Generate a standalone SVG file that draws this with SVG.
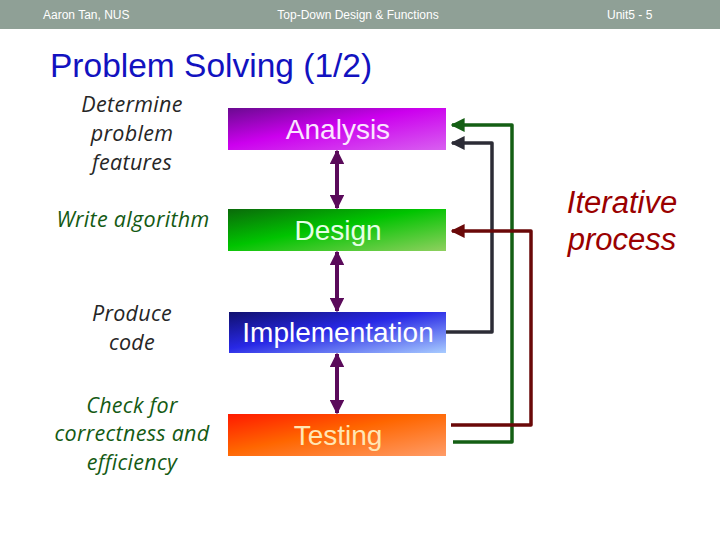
<svg xmlns="http://www.w3.org/2000/svg" width="720" height="540" viewBox="0 0 720 540">
<defs>
<style>
.hdr{font-family:"Liberation Sans",Arial,sans-serif;font-size:12px;fill:#ffffff}
.box{font-family:"Liberation Sans",Arial,sans-serif;font-size:28px;text-anchor:middle}
.lbl{font-family:"Open Sans","Noto Sans",sans-serif;font-style:italic;font-size:21.5px;letter-spacing:0.3px;text-anchor:middle}
.dk{fill:#262626}
.gr{fill:#145a14}
.vline{stroke:#5a0a5a;stroke-width:4;fill:none}
.conn{stroke-width:3.5;fill:none;stroke-linejoin:round}
</style>
<linearGradient id="gA" x1="0" y1="0" x2="1" y2="1">
<stop offset="0" stop-color="#6a0a90"/><stop offset="0.45" stop-color="#cc00ee"/><stop offset="1" stop-color="#d860f0"/>
</linearGradient>
<linearGradient id="gD" x1="0" y1="0" x2="1" y2="1">
<stop offset="0" stop-color="#0a6a0a"/><stop offset="0.45" stop-color="#00c400"/><stop offset="1" stop-color="#90d060"/>
</linearGradient>
<linearGradient id="gI" x1="0" y1="0" x2="1" y2="1">
<stop offset="0" stop-color="#10106e"/><stop offset="0.45" stop-color="#2828e6"/><stop offset="1" stop-color="#a8ccff"/>
</linearGradient>
<linearGradient id="gT" x1="0" y1="0" x2="1" y2="1">
<stop offset="0" stop-color="#ff1a00"/><stop offset="0.45" stop-color="#ff6600"/><stop offset="1" stop-color="#ff9c68"/>
</linearGradient>
<marker id="mP" viewBox="0 0 10 10" refX="9" refY="5" markerWidth="3.6" markerHeight="3.6" orient="auto-start-reverse" markerUnits="strokeWidth">
<path d="M0,0 L10,5 L0,10 z" fill="#5a0a5a"/>
</marker>
<marker id="mG" viewBox="0 0 10 10" refX="9" refY="5" markerWidth="4" markerHeight="4" orient="auto" markerUnits="strokeWidth">
<path d="M0,0 L10,5 L0,10 z" fill="#145f14"/>
</marker>
<marker id="mK" viewBox="0 0 10 10" refX="9" refY="5" markerWidth="4" markerHeight="4" orient="auto" markerUnits="strokeWidth">
<path d="M0,0 L10,5 L0,10 z" fill="#2c2c36"/>
</marker>
<marker id="mR" viewBox="0 0 10 10" refX="9" refY="5" markerWidth="4" markerHeight="4" orient="auto" markerUnits="strokeWidth">
<path d="M0,0 L10,5 L0,10 z" fill="#6a0808"/>
</marker>
</defs>
<rect x="0" y="0" width="720" height="540" fill="#ffffff"/>
<g id="header">
<rect x="0" y="0" width="720" height="29" fill="#8fa096"/>
<text class="hdr" x="43" y="19">Aaron Tan, NUS</text>
<text class="hdr" x="358" y="19" text-anchor="middle">Top-Down Design &amp; Functions</text>
<text class="hdr" x="607" y="19">Unit5 - 5</text>
</g>
<text x="50" y="77" font-family="Liberation Sans,Arial,sans-serif" font-size="33.5" fill="#1212c0">Problem Solving (1/2)</text>
<g id="labels">
<text class="lbl dk" x="132" y="112">Determine</text>
<text class="lbl dk" x="132" y="141">problem</text>
<text class="lbl dk" x="132" y="170">features</text>
<text class="lbl gr" x="133" y="227">Write algorithm</text>
<text class="lbl dk" x="132" y="321">Produce</text>
<text class="lbl dk" x="132" y="350">code</text>
<text class="lbl gr" x="132" y="413">Check for</text>
<text class="lbl gr" x="132" y="441">correctness and</text>
<text class="lbl gr" x="132" y="470">efficiency</text>
</g>
<g id="analysis">
<rect x="228" y="108" width="218" height="42" fill="url(#gA)"/>
<text class="box" x="338" y="139" fill="#fbe6ff">Analysis</text>
</g>
<g id="design">
<rect x="228" y="209" width="218" height="42" fill="url(#gD)"/>
<text class="box" x="338" y="240" fill="#e6ffe6">Design</text>
</g>
<g id="implementation">
<rect x="229" y="312" width="217" height="41" fill="url(#gI)"/>
<text class="box" x="338" y="342" fill="#ffffff">Implementation</text>
</g>
<g id="testing">
<rect x="228" y="414" width="218" height="42" fill="url(#gT)"/>
<text class="box" x="338" y="445" fill="#ffe6b4">Testing</text>
</g>
<g id="connectors">
<line class="vline" x1="337" y1="151" x2="337" y2="208" marker-start="url(#mP)" marker-end="url(#mP)"/>
<line class="vline" x1="337" y1="252" x2="337" y2="311" marker-start="url(#mP)" marker-end="url(#mP)"/>
<line class="vline" x1="337" y1="354" x2="337" y2="413" marker-start="url(#mP)" marker-end="url(#mP)"/>
<path class="conn" stroke="#145f14" d="M453,442 L512,442 L512,125 L452,125" marker-end="url(#mG)"/>
<path class="conn" stroke="#2c2c36" d="M446,332 L492,332 L492,143 L452,143" marker-end="url(#mK)"/>
<path class="conn" stroke="#6a0808" d="M451,425 L531,425 L531,231 L452,231" marker-end="url(#mR)"/>
</g>
<g id="iterative">
<text x="622" y="213" font-family="Liberation Sans,Arial,sans-serif" font-style="italic" font-size="31" fill="#9a0000" text-anchor="middle">Iterative</text>
<text x="622" y="250" font-family="Liberation Sans,Arial,sans-serif" font-style="italic" font-size="31" fill="#9a0000" text-anchor="middle">process</text>
</g>
</svg>
